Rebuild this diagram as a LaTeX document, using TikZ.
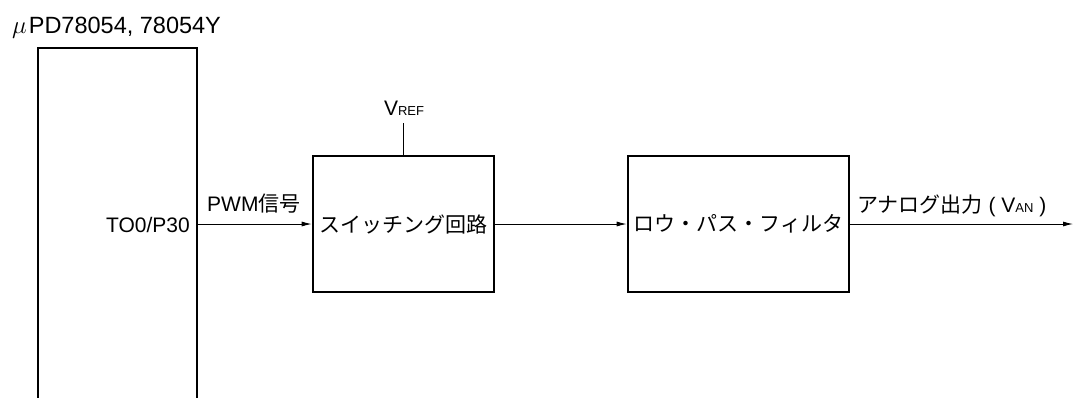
\documentclass[tikz,border=0pt]{standalone}
\usepackage{fontspec}
\setmainfont{Liberation Sans}
\newfontfamily\jp{Noto Sans CJK JP}
\usetikzlibrary{arrows.meta}
\begin{document}
\begin{tikzpicture}[x=1pt,y=-1pt,
  blk/.style={draw,line width=2.6pt,minimum height=136pt,inner sep=0pt,font=\fontsize{21}{21}\selectfont\jp},
  sig/.style={line width=0.9pt,-{Latex[length=10pt,width=5pt]}},
  lbl/.style={inner sep=0pt,font=\fontsize{21}{21}\selectfont},
  small/.style={font=\fontsize{13}{13}\selectfont}]
\useasboundingbox[fill=white] (0,0) rectangle (1074,397);
% microcontroller outline (open at the bottom)
\draw[line width=2.4pt] (38,402) -- (38,48) -- (197,48) -- (197,402);
\node[anchor=base west,inner sep=0pt,font=\fontsize{23.5}{24}\selectfont] (title) at (12,33) {$\mu$\hspace{2pt}PD78054, 78054Y};
\node[lbl,anchor=base east] (pin) at (190,232) {TO0/P30};
\coordinate (chipout) at (197,224);
% blocks
\node[blk,minimum width=181pt] (sw) at (403.5,224) {スイッチング回路};
\node[blk,minimum width=221pt] (lpf) at (738.5,224) {ロウ・パス・フィルタ};
\coordinate (out) at (1073,224);
% reference voltage
\coordinate (vref) at (403.5,123);
\node[anchor=base,inner sep=0pt,font=\fontsize{21}{21}\selectfont] (vreflbl) at (404,115) {V{\fontsize{13}{13}\selectfont REF}};
\draw[line width=0.9pt] (vref) -- (sw.north);
% signals
\draw[sig] (chipout) -- (sw.west);
\draw[sig] (sw.east) -- (lpf.west);
\draw[sig] (lpf.east) -- (out);
\node[lbl,anchor=base west] (pwm) at (207,211) {PWM{\jp 信号}};
\node[lbl,anchor=base west] (outl) at (857,212) {{\jp アナログ出力} ( V{\fontsize{13}{13}\selectfont AN} )};
\end{tikzpicture}
\end{document}
